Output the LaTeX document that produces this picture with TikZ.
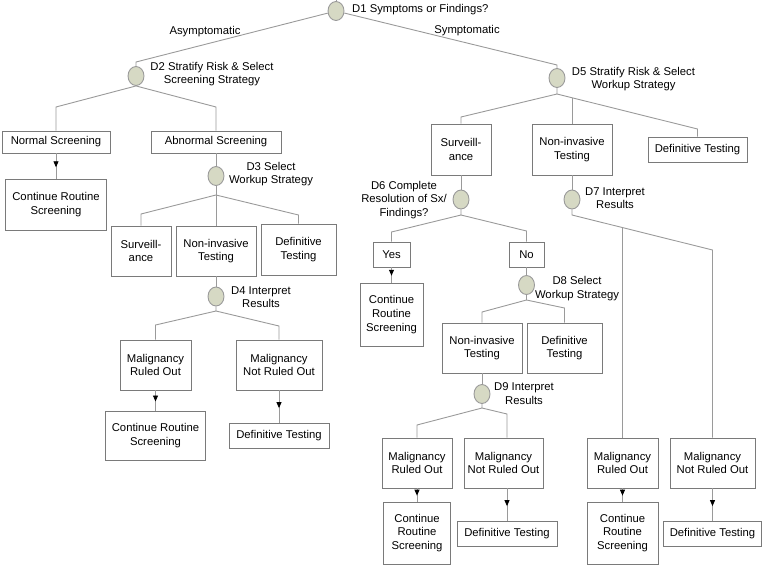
\documentclass[tikz,border=0pt]{standalone}
\usepackage{fontspec}
\setmainfont{Liberation Sans}
\usetikzlibrary{shapes.geometric,arrows.meta,decorations.markings}
\definecolor{lc}{HTML}{9A9A9A}
\definecolor{bc}{HTML}{7A7A7A}
\definecolor{cf}{HTML}{D6D9C4}
\begin{document}
\begin{tikzpicture}[x=1pt,y=-1pt,
  every node/.style={font=\fontsize{11.3}{13.6}\selectfont},
  box/.style={draw=bc, line width=0.9pt, fill=white, align=center, inner sep=0pt},
  dec/.style={ellipse, draw=lc, fill=cf, line width=0.9pt, minimum width=16pt, minimum height=19pt, inner sep=0pt},
  lab/.style={align=center, inner sep=0pt},
  tree/.style={draw=lc, line width=0.9pt},
  flow/.style={draw=lc, line width=0.9pt, postaction={decorate},
    decoration={markings, mark=at position 0.55 with {\arrow[black]{Triangle[width=5pt,length=6pt]}}}}
]
\useasboundingbox (0,0) rectangle (763,565);

% ---------- top ----------
\node[dec] (d1) at (336,11) {};
\node[lab, anchor=west] (l1) at (352,10) {D1 Symptoms or Findings?};
\coordinate (t1) at (336,0);
\node[lab] (asy) at (205,32) {Asymptomatic};
\node[lab] (sym) at (467,31) {Symptomatic};

% ---------- left tree ----------
\node[dec] (d2) at (136,76) {};
\node[lab] (l2) at (212,74) {D2 Stratify Risk \& Select\\Screening Strategy};
\node[box, minimum width=108pt, minimum height=22pt] (ns) at (56,142) {Normal Screening};
\node[box, minimum width=130pt, minimum height=22pt] (abn) at (216,142) {Abnormal Screening};
\node[box, minimum width=101pt, minimum height=51pt] (crs1) at (56,204.5) {Continue Routine\\Screening};
\node[dec] (d3) at (216,176) {};
\node[lab] (l3) at (271,174) {D3 Select\\Workup Strategy};
\node[box, minimum width=60pt, minimum height=50pt] (surv1) at (141,251) {Surveill-\\ance};
\node[box, minimum width=80pt, minimum height=50pt] (ni1) at (216,251) {Non-invasive\\Testing};
\node[box, minimum width=75pt, minimum height=51pt] (def1) at (298.5,249.5) {Definitive\\Testing};
\node[dec] (d4) at (216,296.5) {};
\node[lab] (l4) at (261,297) {D4 Interpret\\Results};
\node[box, minimum width=71pt, minimum height=50pt] (mro1) at (155.5,365) {Malignancy\\Ruled Out};
\node[box, minimum width=86pt, minimum height=50pt] (mnro1) at (279,365) {Malignancy\\Not Ruled Out};
\node[box, minimum width=100pt, minimum height=49pt] (crs2) at (155.5,435.5) {Continue Routine\\Screening};
\node[box, minimum width=100pt, minimum height=25pt] (dt1) at (279,435.5) {Definitive Testing};

% ---------- right tree ----------
\node[dec] (d5) at (557,78) {};
\node[lab] (l5) at (633.5,79) {D5 Stratify Risk \& Select\\Workup Strategy};
\node[box, minimum width=60pt, minimum height=51pt] (surv2) at (461,149.5) {Surveill-\\ance};
\node[box, minimum width=80pt, minimum height=51pt] (ni2) at (572,149.5) {Non-invasive\\Testing};
\node[box, minimum width=99pt, minimum height=25pt] (def2) at (697.5,149.5) {Definitive Testing};
\node[dec] (d6) at (461,199.5) {};
\node[lab] (l6) at (404,200) {D6 Complete\\Resolution of Sx/\\Findings?};
\node[box, minimum width=37pt, minimum height=25pt] (yes) at (391.5,254.5) {Yes};
\node[box, minimum width=35pt, minimum height=25pt] (no) at (526.5,254.5) {No};
\node[box, minimum width=63pt, minimum height=63pt] (crs3) at (391.5,314.5) {Continue\\Routine\\Screening};
\node[dec] (d8) at (526.5,285) {};
\node[lab] (l8) at (577,288.5) {D8 Select\\Workup Strategy};
\node[box, minimum width=80pt, minimum height=50pt] (ni3) at (482,348) {Non-invasive\\Testing};
\node[box, minimum width=75pt, minimum height=50pt] (def3) at (564.5,348) {Definitive\\Testing};
\node[dec] (d9) at (482,394) {};
\node[lab] (l9) at (524,393.5) {D9 Interpret\\Results};
\node[box, minimum width=70pt, minimum height=50pt] (mro2) at (417,463) {Malignancy\\Ruled Out};
\node[box, minimum width=79pt, minimum height=50pt] (mnro2) at (503.5,463) {Malignancy\\Not Ruled Out};
\node[box, minimum width=67pt, minimum height=62pt] (crs4) at (417,533) {Continue\\Routine\\Screening};
\node[box, minimum width=100pt, minimum height=25pt] (dt2) at (507,533.5) {Definitive Testing};
\node[dec] (d7) at (572,199.5) {};
\node[lab] (l7) at (615,198) {D7 Interpret\\Results};
\node[box, minimum width=71pt, minimum height=50pt] (mro3) at (622.5,463) {Malignancy\\Ruled Out};
\node[box, minimum width=85pt, minimum height=50pt] (mnro3) at (712.5,463) {Malignancy\\Not Ruled Out};
\node[box, minimum width=71pt, minimum height=62pt] (crs5) at (622.5,533) {Continue\\Routine\\Screening};
\node[box, minimum width=98pt, minimum height=25pt] (dt3) at (712.5,533.5) {Definitive Testing};

% ---------- connectors ----------
\draw[tree] (d1) -- (t1);
\draw[tree] (d1) -- (136,62) -- (d2);
\draw[tree] (d1) -- (557,65) -- (d5);

\draw[tree] (d2.south) -- (56,107) -- (ns);
\draw[tree] (d2.south) -- (216,107) -- (abn);
\draw[flow] (ns) -- (crs1);
\draw[tree] (abn) -- (d3);
\coordinate (j3) at (216,195);
\draw[tree] (d3) -- (ni1);
\draw[tree] (j3) -- (141,214) -- (surv1);
\draw[tree] (j3) -- (298.5,215) -- (def1);
\draw[tree] (ni1) -- (d4);
\coordinate (j4) at (216,311);
\draw[tree] (d4) -- (j4) -- (155.5,325) -- (mro1);
\draw[tree] (j4) -- (279,326) -- (mnro1);
\draw[flow] (mro1) -- (crs2);
\draw[flow] (mnro1) -- (dt1);

\coordinate (j5) at (557,94);
\draw[tree] (d5) -- (j5) -- (461,117) -- (surv2);
\draw[tree] (j5) -- (697.5,129) -- (def2);
\coordinate (m5) at (572,97.7);
\draw[tree] (m5) -- (ni2);
\draw[tree] (surv2) -- (d6);
\draw[tree] (ni2) -- (d7);
\coordinate (j6) at (461,215);
\draw[tree] (d6) -- (j6) -- (391.5,232) -- (yes);
\draw[tree] (j6) -- (526.5,231) -- (no);
\draw[flow] (yes) -- (crs3);
\draw[tree] (no) -- (d8);
\coordinate (j8) at (526.5,300);
\draw[tree] (d8) -- (j8) -- (482,312) -- (ni3);
\draw[tree] (j8) -- (564.5,308) -- (def3);
\draw[tree] (ni3) -- (d9);
\coordinate (j9) at (482,408);
\draw[tree] (d9) -- (j9) -- (417,425) -- (mro2);
\coordinate (e9) at (507,414);
\draw[tree] (j9) -- (e9) -- (e9 |- mnro2.north);
\draw[flow] (mro2) -- (crs4);
\draw[flow] (dt2 |- mnro2.south) -- (dt2);

\coordinate (j7) at (572,215);
\draw[tree] (d7) -- (j7) -- (712.5,250) -- (mnro3);
\coordinate (m7) at (622.5,227.6);
\draw[tree] (m7) -- (mro3);
\draw[flow] (mro3) -- (crs5);
\draw[flow] (mnro3) -- (dt3);
\end{tikzpicture}
\end{document}
